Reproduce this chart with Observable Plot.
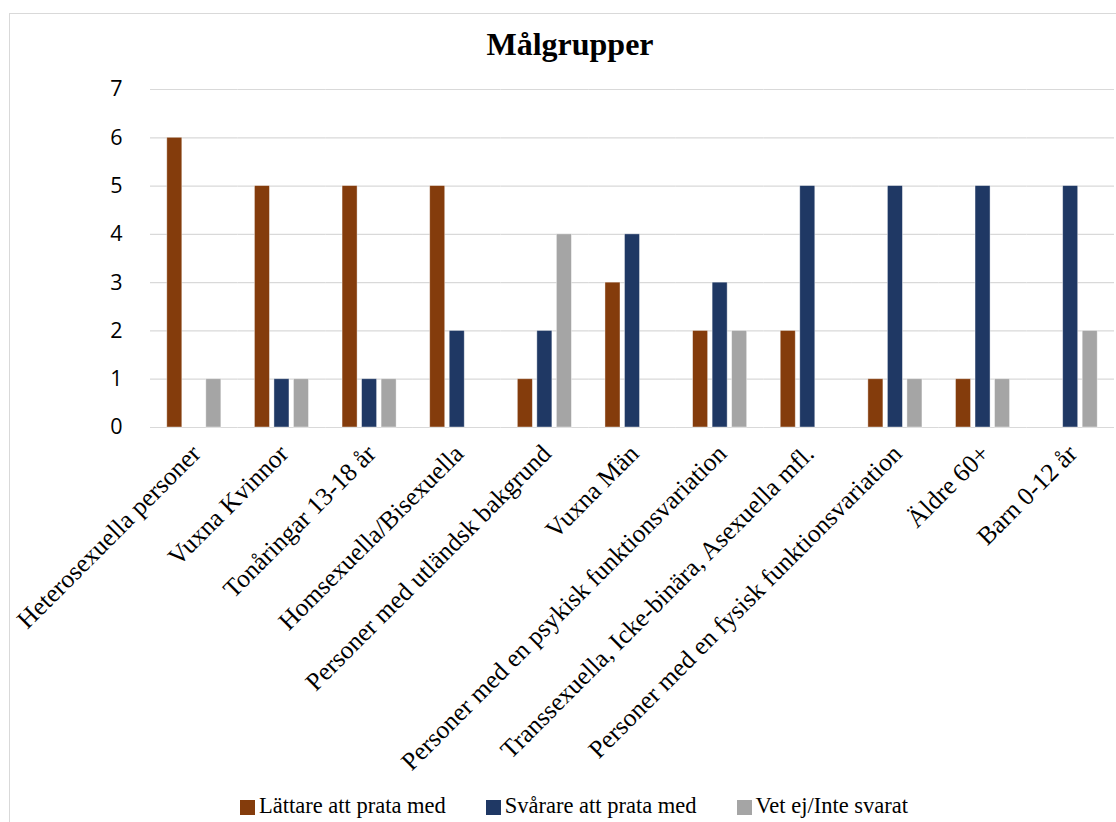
<!DOCTYPE html>
<html>
<head>
<meta charset="utf-8">
<script src="https://cdn.jsdelivr.net/npm/d3@7"></script>
<script src="https://cdn.jsdelivr.net/npm/@observablehq/plot@0.6"></script>
<style>
  html, body { margin: 0; padding: 0; background: #fff; width: 1116px; height: 822px; overflow: hidden; position: relative; }
  #frame { position: absolute; left: 9px; top: 13px; width: 1200px; height: 1000px; border: 1px solid #d9d9d9; box-sizing: border-box; }
  #title { position: absolute; left: 0; top: 28px; width: 1140px; text-align: center; font: bold 32px "Liberation Serif", "Times New Roman", serif; line-height: 32px; color: #000; }
  #chart { position: absolute; left: 0; top: 0; }
  #legend { position: absolute; left: 0; top: 795px; width: 1148px; display: flex; justify-content: center; align-items: center; font: 22.5px "Liberation Serif", "Times New Roman", serif; line-height: 22px; color: #000; }
  .item { display: flex; align-items: center; margin: 0 20px; }
  .sw { width: 15px; height: 15px; margin-right: 4px; position: relative; top: 1px; }
</style>
</head>
<body>
<div id="frame"></div>
<div id="title">Målgrupper</div>
<div id="chart"></div>
<div id="legend"></div>
<script>
const categories = [
  "Heterosexuella personer",
  "Vuxna Kvinnor",
  "Tonåringar 13-18 år",
  "Homsexuella/Bisexuella",
  "Personer med utländsk bakgrund",
  "Vuxna Män",
  "Personer med en psykisk funktionsvariation",
  "Transsexuella, Icke-binära, Asexuella mfl.",
  "Personer med en fysisk funktionsvariation",
  "Äldre 60+",
  "Barn 0-12 år"
];
const series = ["Lättare att prata med", "Svårare att prata med", "Vet ej/Inte svarat"];
const colors = ["#843C0C", "#1F3864", "#A5A5A5"];
const lattare = [6, 5, 5, 5, 1, 3, 2, 2, 1, 1, 0];
const svarare = [0, 1, 1, 2, 2, 4, 3, 5, 5, 5, 5];
const vetEj   = [1, 1, 1, 0, 4, 0, 2, 0, 1, 1, 2];
const yTicks = [0, 1, 2, 3, 4, 5, 6, 7];

const values = [lattare, svarare, vetEj];
const data = [];
categories.forEach((c, i) => {
  series.forEach((s, j) => {
    data.push({category: c, series: s, value: values[j][i]});
  });
});
const bars = data.filter(d => d.value > 0);

const chart = Plot.plot({
  width: 1116,
  height: 780,
  marginTop: 89,
  marginBottom: 353,
  marginLeft: 150,
  marginRight: 2,
  style: {background: "transparent", overflow: "visible"},
  fx: {domain: categories, padding: 0, round: false, label: null},
  x: {domain: series, paddingInner: 0.23, paddingOuter: 0.86, round: false, axis: null},
  y: {domain: [0, 7], label: null},
  color: {domain: series, range: colors},
  marks: [
    Plot.ruleY(yTicks, {stroke: "#d9d9d9", strokeWidth: 1.2}),
    Plot.barY(bars, {fx: "category", x: "series", y: "value", fill: "series", stroke: "#ffffff", strokeOpacity: 0.5, strokeWidth: 0.8}),
    Plot.axisY(yTicks, {tickSize: 0, tickPadding: 28, fontSize: 21.5, fontFamily: "Open Sans, Liberation Sans, sans-serif", fill: "#000", label: null}),
    Plot.axisFx({anchor: "bottom", tickSize: 0, tickPadding: 22, tickRotate: -45, dx: 2, fontSize: 25.5, fontFamily: "Liberation Serif, Times New Roman, serif", fill: "#000", label: null})
  ]
});
document.getElementById("chart").appendChild(chart);

const legend = document.getElementById("legend");
series.forEach((s, j) => {
  const item = document.createElement("div");
  item.className = "item";
  const sw = document.createElement("div");
  sw.className = "sw";
  sw.style.background = colors[j];
  const t = document.createElement("span");
  t.textContent = s;
  item.appendChild(sw);
  item.appendChild(t);
  legend.appendChild(item);
});
</script>
</body>
</html>
